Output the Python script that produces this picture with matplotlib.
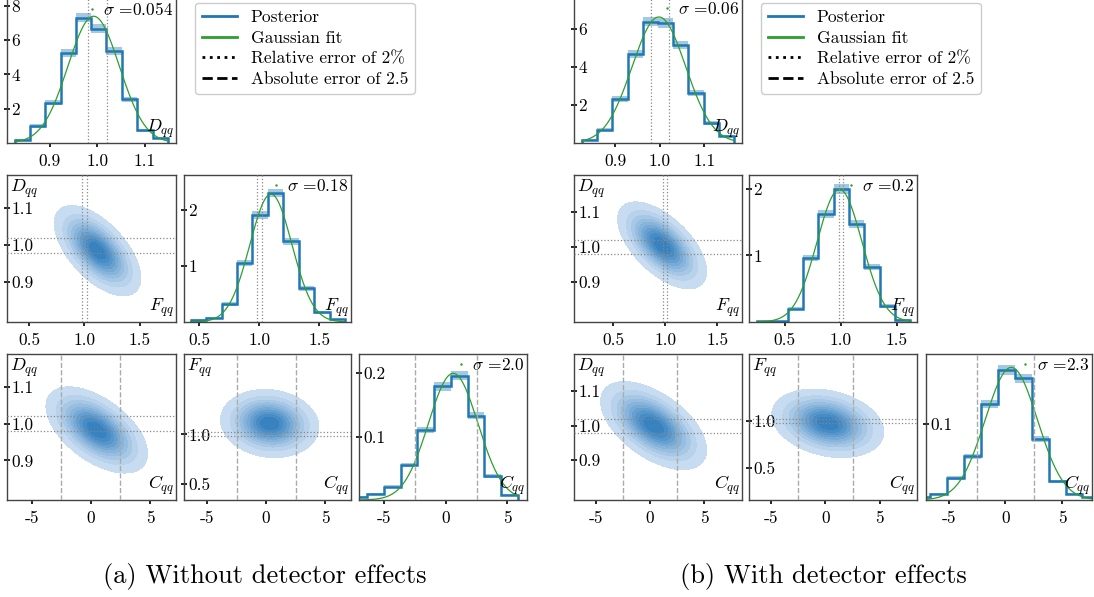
import numpy as np
import matplotlib
matplotlib.use('Agg')
import matplotlib.pyplot as plt
from matplotlib.colors import LinearSegmentedColormap
from matplotlib.lines import Line2D

plt.rcParams['font.family'] = 'serif'
plt.rcParams['font.serif'] = ['cmr10', 'DejaVu Serif']
plt.rcParams['mathtext.fontset'] = 'cm'
plt.rcParams['axes.unicode_minus'] = False
plt.rcParams['font.size'] = 12.5

# --- (a) without detector effects: marginal histograms ---
a_D_edges = [0.826, 0.858, 0.890, 0.923, 0.955, 0.987, 1.019, 1.051, 1.084, 1.116, 1.148]
a_D_hist = [0.20, 1.00, 2.35, 5.26, 7.30, 6.66, 5.36, 2.54, 0.74, 0.30]
a_D_err = [0.045, 0.10, 0.156, 0.233, 0.275, 0.263, 0.236, 0.162, 0.088, 0.056]
a_F_edges = [0.430, 0.559, 0.687, 0.816, 0.944, 1.073, 1.201, 1.330, 1.458, 1.587, 1.715]
a_F_hist = [0.04, 0.08, 0.32, 1.05, 1.91, 2.30, 1.44, 0.60, 0.17, 0.05]
a_F_err = [0.010, 0.014, 0.029, 0.052, 0.070, 0.077, 0.061, 0.039, 0.021, 0.011]
a_C_edges = [-7.73, -6.37, -5.01, -3.65, -2.30, -0.94, 0.42, 1.78, 3.13, 4.49, 5.85]
a_C_hist = [0.0047, 0.0088, 0.021, 0.055, 0.110, 0.179, 0.196, 0.133, 0.038, 0.0083]
a_C_err = [0.0011, 0.0015, 0.0023, 0.0037, 0.0052, 0.0066, 0.0069, 0.0057, 0.0031, 0.0014]
a_fit_mu = [0.992, 1.098, 0.60]
a_fit_sigma = [0.054, 0.175, 2.0]
a_sigma_text = ['0.054', '0.18', '2.0']
# 2D posteriors (x, y): mean_x, mean_y, sd_x, sd_y, rho
a_DF = [1.12, 0.985, 0.16, 0.050, -0.6]
a_DC = [0.5, 0.983, 1.75, 0.048, -0.55]
a_FC = [0.3, 1.11, 1.70, 0.14, -0.1]

# --- (b) with detector effects ---
b_D_edges = [0.825, 0.859, 0.894, 0.928, 0.962, 0.996, 1.030, 1.064, 1.098, 1.132, 1.166]
b_D_hist = [0.175, 0.70, 2.32, 4.70, 6.40, 6.32, 5.18, 2.63, 1.05, 0.35]
b_D_err = [0.041, 0.083, 0.151, 0.214, 0.250, 0.249, 0.225, 0.160, 0.101, 0.058]
b_F_edges = [0.252, 0.389, 0.525, 0.662, 0.799, 0.936, 1.072, 1.209, 1.346, 1.482, 1.619]
b_F_hist = [0.010, 0.012, 0.20, 0.96, 1.62, 2.00, 1.48, 0.82, 0.24, 0.035]
b_F_err = [0.005, 0.005, 0.022, 0.048, 0.063, 0.070, 0.060, 0.045, 0.024, 0.009]
b_C_edges = [-8.09, -6.60, -5.11, -3.62, -2.13, -0.64, 0.85, 2.34, 3.83, 5.32, 6.81, 8.30]
b_C_hist = [0.0035, 0.0079, 0.0285, 0.057, 0.126, 0.170, 0.159, 0.080, 0.0245, 0.0079, 0.0035]
b_C_err = [0.0009, 0.0013, 0.0025, 0.0036, 0.0053, 0.0062, 0.0060, 0.0042, 0.0023, 0.0013, 0.0009]
b_fit_mu = [0.998, 0.988, 0.53]
b_fit_sigma = [0.06, 0.2, 2.3]
b_sigma_text = ['0.06', '0.2', '2.3']
b_DF = [0.97, 1.005, 0.175, 0.051, -0.6]
b_DC = [0.33, 1.0, 2.0, 0.052, -0.55]
b_FC = [0.23, 0.975, 2.1, 0.15, -0.25]

labels = [r'$D_{qq}$', r'$F_{qq}$', r'$C_{qq}$']
captions = ['(a) Without detector effects', '(b) With detector effects']

W, H = 1094, 597
fig = plt.figure(figsize=(W / 100, H / 100), dpi=100)
kde_cmap = LinearSegmentedColormap.from_list('kde', ['#cfe1f2', '#2f7dbd'])


def add_ax(x0, x1, y0, y1):
    return fig.add_axes([x0 / W, 1 - y1 / H, (x1 - x0) / W, (y1 - y0) / H])


def style(ax, xt, yt, xlim, ylim):
    ax.set_xticks(xt)
    ax.set_yticks(yt)
    ax.set_xlim(xlim)
    ax.set_ylim(ylim)
    ax.tick_params(axis='x', direction='out', length=3, width=1.2, pad=5, labelsize=12.5)
    ax.tick_params(axis='y', direction='inout', length=4, width=1.2, pad=-5.2, labelsize=12.5)
    for lab in ax.get_yticklabels():
        lab.set_ha('left')
    for s in ax.spines.values():
        s.set_color('#444444')
        s.set_linewidth(1.0)


def ref_lines(ax, var, vertical):
    f = ax.axvline if vertical else ax.axhline
    if var == 2:
        for v in (-2.5, 2.5):
            f(v, ls='--', color='#aaaaaa', lw=1.0, zorder=3)
    else:
        for v in (0.98, 1.02):
            f(v, ls=':', color='#888888', lw=0.9, zorder=3)


def hist_panel(ax, var, edges, h, err, mu, sig, stext):
    edges = np.asarray(edges)
    h = np.asarray(h)
    err = np.asarray(err)
    ref_lines(ax, var, True)
    ax.bar(edges[:-1], 2 * err, width=np.diff(edges), bottom=h - err, align='edge',
           color='C0', alpha=0.4, lw=0)
    ax.stairs(h, edges, color='C0', lw=1.8)
    xs = np.linspace(edges[0], edges[-1], 300)
    ax.plot(xs, np.exp(-0.5 * ((xs - mu) / sig) ** 2) / (sig * np.sqrt(2 * np.pi)),
            color='tab:green', lw=0.9)
    ax.text(0.99, 0.02, labels[var], transform=ax.transAxes, ha='right', va='bottom', fontsize=13)
    ax.legend(handles=[Line2D([0], [0], color='tab:green', marker='.', ms=1.5, lw=0)],
              labels=[r'$\sigma$ =' + stext], loc='upper right', frameon=False, fontsize=12.5,
              handlelength=0.5, handletextpad=0.4, borderaxespad=0.0, borderpad=0.15)


def kde_panel(ax, xv, yv, p, xlim, ylim):
    mx, my, sx, sy, rho = p
    gx, gy = np.meshgrid(np.linspace(*xlim, 250), np.linspace(*ylim, 250))
    u = (gx - mx) / sx
    v = (gy - my) / sy
    z = np.exp(-(u ** 2 - 2 * rho * u * v + v ** 2) / (2 * (1 - rho ** 2)))
    ax.contourf(gx, gy, z, levels=np.linspace(0.05, 1.0, 11), cmap=kde_cmap)
    ref_lines(ax, xv, True)
    ref_lines(ax, yv, False)
    ax.text(0.02, 0.98, labels[yv], transform=ax.transAxes, ha='left', va='top', fontsize=13)
    ax.text(0.99, 0.02, labels[xv], transform=ax.transAxes, ha='right', va='bottom', fontsize=13)


groups = [
    dict(cols=[(7, 176), (184, 351), (359, 527)],
         hists=[(a_D_edges, a_D_hist, a_D_err), (a_F_edges, a_F_hist, a_F_err), (a_C_edges, a_C_hist, a_C_err)],
         mu=a_fit_mu, sig=a_fit_sigma, stext=a_sigma_text, DF=a_DF, DC=a_DC, FC=a_FC,
         hx=[(0.81, 1.165), (0.374, 1.765), (-7.03, 6.58)],
         hy=[(0, 8.45), (0, 2.62), (0, 0.23)],
         hyt=[[2, 4, 6, 8], [1, 2], [0.1, 0.2]],
         Fx2d=(0.30, 1.83), Cx=[(-7.07, 7.18), (-6.95, 7.18)],
         Dy=(0.792, 1.19), Fy=(0.34, 1.81),
         leg=195, cap=265),
    dict(cols=[(574, 742), (749, 917), (926, 1092)],
         hists=[(b_D_edges, b_D_hist, b_D_err), (b_F_edges, b_F_hist, b_F_err), (b_C_edges, b_C_hist, b_C_err)],
         mu=b_fit_mu, sig=b_fit_sigma, stext=b_sigma_text, DF=b_DF, DC=b_DC, FC=b_FC,
         hx=[(0.808, 1.184), (0.18, 1.68), (-6.99, 7.65)],
         hy=[(0, 7.65), (0, 2.21), (0, 0.191)],
         hyt=[[2, 4, 6], [1, 2], [0.1]],
         Fx2d=(0.12, 1.74), Cx=[(-7.02, 8.49), (-7.0, 8.42)],
         Dy=(0.785, 1.207), Fy=(0.154, 1.717),
         leg=195 + 566, cap=823),
]
rows = [(-2, 143), (175, 322), (354, 500)]
xticks = [[0.9, 1.0, 1.1], [0.5, 1.0, 1.5], [-5, 0, 5]]

for gi, g in enumerate(groups):
    # diagonal histograms
    for i in range(3):
        ax = add_ax(*g['cols'][i], *rows[i])
        style(ax, xticks[i], g['hyt'][i], g['hx'][i], g['hy'][i])
        hist_panel(ax, i, *g['hists'][i], g['mu'][i], g['sig'][i], g['stext'][i])
    # D vs F
    ax = add_ax(*g['cols'][0], *rows[1])
    style(ax, xticks[1], [0.9, 1.0, 1.1], g['Fx2d'], g['Dy'])
    kde_panel(ax, 1, 0, g['DF'], g['Fx2d'], g['Dy'])
    # D vs C
    ax = add_ax(*g['cols'][0], *rows[2])
    style(ax, xticks[2], [0.9, 1.0, 1.1], g['Cx'][0], g['Dy'])
    kde_panel(ax, 2, 0, g['DC'], g['Cx'][0], g['Dy'])
    # F vs C
    ax = add_ax(*g['cols'][1], *rows[2])
    style(ax, xticks[2], [0.5, 1.0], g['Cx'][1], g['Fy'])
    kde_panel(ax, 2, 1, g['FC'], g['Cx'][1], g['Fy'])

    handles = [Line2D([0], [0], color='C0', lw=2),
               Line2D([0], [0], color='tab:green', lw=2),
               Line2D([0], [0], color='black', ls=':', lw=2),
               Line2D([0], [0], color='black', ls='--', lw=2)]
    fig.legend(handles, ['Posterior', 'Gaussian fit', 'Relative error of 2%', 'Absolute error of 2.5'],
               loc='upper left', bbox_to_anchor=(g['leg'] / W, 1 - 3 / H), fontsize=12.5,
               edgecolor='0.8', framealpha=1, borderaxespad=0, labelspacing=0.3)
    fig.text(g['cap'] / W, 1 - 577 / H, captions[gi], ha='center', va='center', fontsize=19)

fig.savefig('out.png', dpi=100)
